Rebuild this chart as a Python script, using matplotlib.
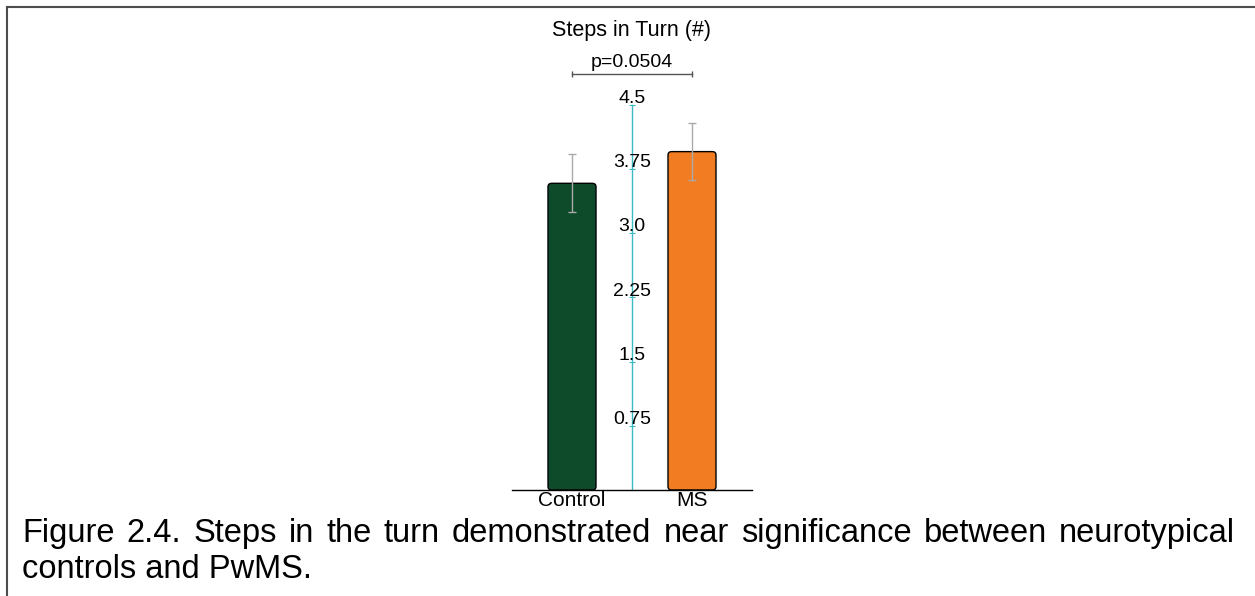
import matplotlib
matplotlib.use("Agg")
import matplotlib.pyplot as plt
import numpy as np
from matplotlib.patches import FancyBboxPatch
from matplotlib.lines import Line2D

plt.rcParams['font.family'] = ['Liberation Sans', 'DejaVu Sans']

# data
groups = ["Control", "MS"]
means = [3.58, 3.95]
errors = [0.34, 0.335]
bar_colors = ["#0e4b2b", "#f27c21"]
ytick_vals = [0.75, 1.5, 2.25, 3.0, 3.75, 4.5]
ytick_labels = ["0.75", "1.5", "2.25", "3.0", "3.75", "4.5"]
title = "Steps in Turn (#)"
p_text = "p=0.0504"
caption_line1 = "Figure 2.4. Steps in the turn demonstrated near significance between neurotypical"
caption_line2 = "controls and PwMS."

W, H = 1255, 596
fig = plt.figure(figsize=(W / 100, H / 100), dpi=100)

# axes placed to match the reference pixel layout
ax = fig.add_axes([512 / W, 1 - 490 / H, 240 / W, 385.5 / H])
ax.set_xlim(-0.5, 1.5)
ax.set_ylim(0, 4.5)

cyan = "#3bbac2"
x = np.arange(len(groups))
width = 0.4
for xi, m, c in zip(x, means, bar_colors):
    patch = FancyBboxPatch((xi - width / 2, 0), width, m,
                           boxstyle="round,pad=0,rounding_size=0.03",
                           mutation_aspect=1.4, fc=c, ec="black", lw=1, zorder=2)
    ax.add_patch(patch)

ax.errorbar(x, means, yerr=errors, fmt='none', ecolor='#aaaaaa',
            elinewidth=1, capsize=3, capthick=1, zorder=3)

# spines
for s in ['top', 'right']:
    ax.spines[s].set_visible(False)
ax.spines['left'].set_position(('data', 0.5))
ax.spines['left'].set_color(cyan)
ax.spines['left'].set_linewidth(1)
ax.spines['left'].set_zorder(1)
ax.spines['bottom'].set_color('black')
ax.spines['bottom'].set_linewidth(1)

ax.set_yticks(ytick_vals)
ax.tick_params(axis='y', direction='inout', length=4, width=0.8, color=cyan, labelleft=False)
for v, lab in zip(ytick_vals, ytick_labels):
    ax.annotate(lab, xy=(0.5, v), xytext=(0, 1.2), textcoords='offset points',
                ha='center', va='baseline', fontsize=14, zorder=4)

ax.set_xticks(x)
ax.set_xticklabels(groups, fontsize=15)
ax.tick_params(axis='x', length=0, pad=1)

# significance bracket, p value and title
ax.plot([x[0], x[1]], [4.86, 4.86], color='#555555', lw=1, marker='|',
        markersize=5, clip_on=False)
ax.text(0.5, 4.94, p_text, ha='center', va='baseline', fontsize=14)
ax.text(0.5, 5.30, title, ha='center', va='baseline', fontsize=15.5)

# frame lines of the page
fig.add_artist(Line2D([7 / W, 1], [1 - 7 / H, 1 - 7 / H], transform=fig.transFigure,
                      lw=1.5, color='#4d4d4d'))
fig.add_artist(Line2D([7 / W, 7 / W], [0, 1 - 7 / H], transform=fig.transFigure,
                      lw=1.5, color='#4d4d4d'))

# caption, first line justified
renderer = fig.canvas.get_renderer()
words = caption_line1.split(" ")
left, right = 22, 1235
y1 = 1 - 542 / H
texts = [fig.text(0, y1, w, fontsize=23.5, va='baseline') for w in words]
widths = [t.get_window_extent(renderer).width for t in texts]
gap = (right - left - sum(widths)) / (len(words) - 1)
pos = left
for t, wd in zip(texts, widths):
    t.set_x(pos / W)
    pos += wd + gap
fig.text(left / W, 1 - 578 / H, caption_line2, fontsize=23.5, va='baseline')

fig.savefig("out.png", dpi=100)
